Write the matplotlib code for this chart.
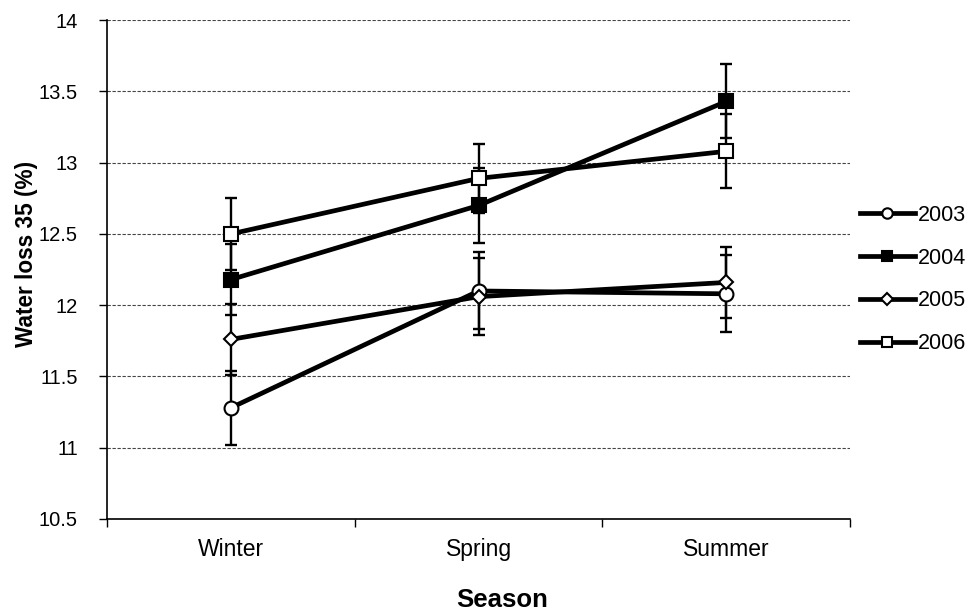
import matplotlib
matplotlib.use("Agg")
import numpy as np
from matplotlib import pyplot as plt
from matplotlib.ticker import FixedLocator

plt.rcParams['font.family'] = ['Liberation Sans', 'DejaVu Sans']

# Data
seasons = ['Winter', 'Spring', 'Summer']
years = ['2003', '2004', '2005', '2006']
loss_2003 = [11.28, 12.10, 12.08]
loss_2004 = [12.18, 12.70, 13.43]
loss_2005 = [11.76, 12.06, 12.16]
loss_2006 = [12.50, 12.89, 13.08]
err_2003 = [0.26, 0.27, 0.27]
err_2004 = [0.25, 0.26, 0.26]
err_2005 = [0.25, 0.27, 0.25]
err_2006 = [0.25, 0.24, 0.26]

series = [loss_2003, loss_2004, loss_2005, loss_2006]
errors = [err_2003, err_2004, err_2005, err_2006]
markers = ['o', 's', 'D', 's']
facecolors = ['white', 'black', 'white', 'white']
msizes = [10, 10.5, 7.5, 10.5]

fig = plt.figure(figsize=(9.67, 6.12), dpi=100)
ax = fig.add_axes([0.1107, 0.152, 0.7685, 0.815])

x = np.arange(len(seasons))

# error bars first so the lines sit on top
for vals, errs in zip(series, errors):
    ax.errorbar(x, vals, yerr=errs, fmt='none', ecolor='black',
                elinewidth=1.7, capsize=4.5, capthick=1.7, zorder=2)

for yr, vals, m, fc, ms in zip(years, series, markers, facecolors, msizes):
    ax.plot(x, vals, color='black', linewidth=3.4, marker=m, markersize=ms,
            markerfacecolor=fc, markeredgecolor='black', markeredgewidth=1.5,
            label=yr, zorder=3)

ax.set_xlim(-0.5, 2.5)
ax.set_ylim(10.5, 14)
ax.set_yticks(np.arange(10.5, 14.01, 0.5))
ax.set_yticklabels(['10.5', '11', '11.5', '12', '12.5', '13', '13.5', '14'])
ax.set_xticks(x)
ax.set_xticklabels(seasons)
ax.xaxis.set_minor_locator(FixedLocator([-0.5, 0.5, 1.5, 2.5]))
ax.tick_params(axis='x', which='major', length=0, pad=14, labelsize=16.5)
ax.tick_params(axis='x', which='minor', length=6, width=1, direction='out')
ax.tick_params(axis='y', length=6, width=1, direction='out', labelsize=14.5, pad=15)

ax.grid(axis='y', linestyle=(0, (3, 1.5)), color='#444444', linewidth=0.8)
ax.set_axisbelow(True)
for s in ['top', 'right']:
    ax.spines[s].set_visible(False)
for s in ['left', 'bottom']:
    ax.spines[s].set_linewidth(1.2)

ax.set_ylabel('Water loss 35 (%)', fontsize=16.3, fontweight='bold', va='center')
ax.yaxis.set_label_coords(-0.109, 0.532)
ax.set_xlabel('Season', fontsize=18.5, fontweight='bold', va='center')
ax.xaxis.set_label_coords(0.532, -0.162)

leg = fig.legend(loc='center left', bbox_to_anchor=(0.889, 0.5433), frameon=False,
                 fontsize=15.5, handlelength=2.55, handletextpad=0.14,
                 labelspacing=1.02, borderaxespad=0, borderpad=0)
for h in leg.legend_handles:
    h.set_markersize(h.get_markersize() * 0.75)

fig.savefig('out.png', dpi=100)
